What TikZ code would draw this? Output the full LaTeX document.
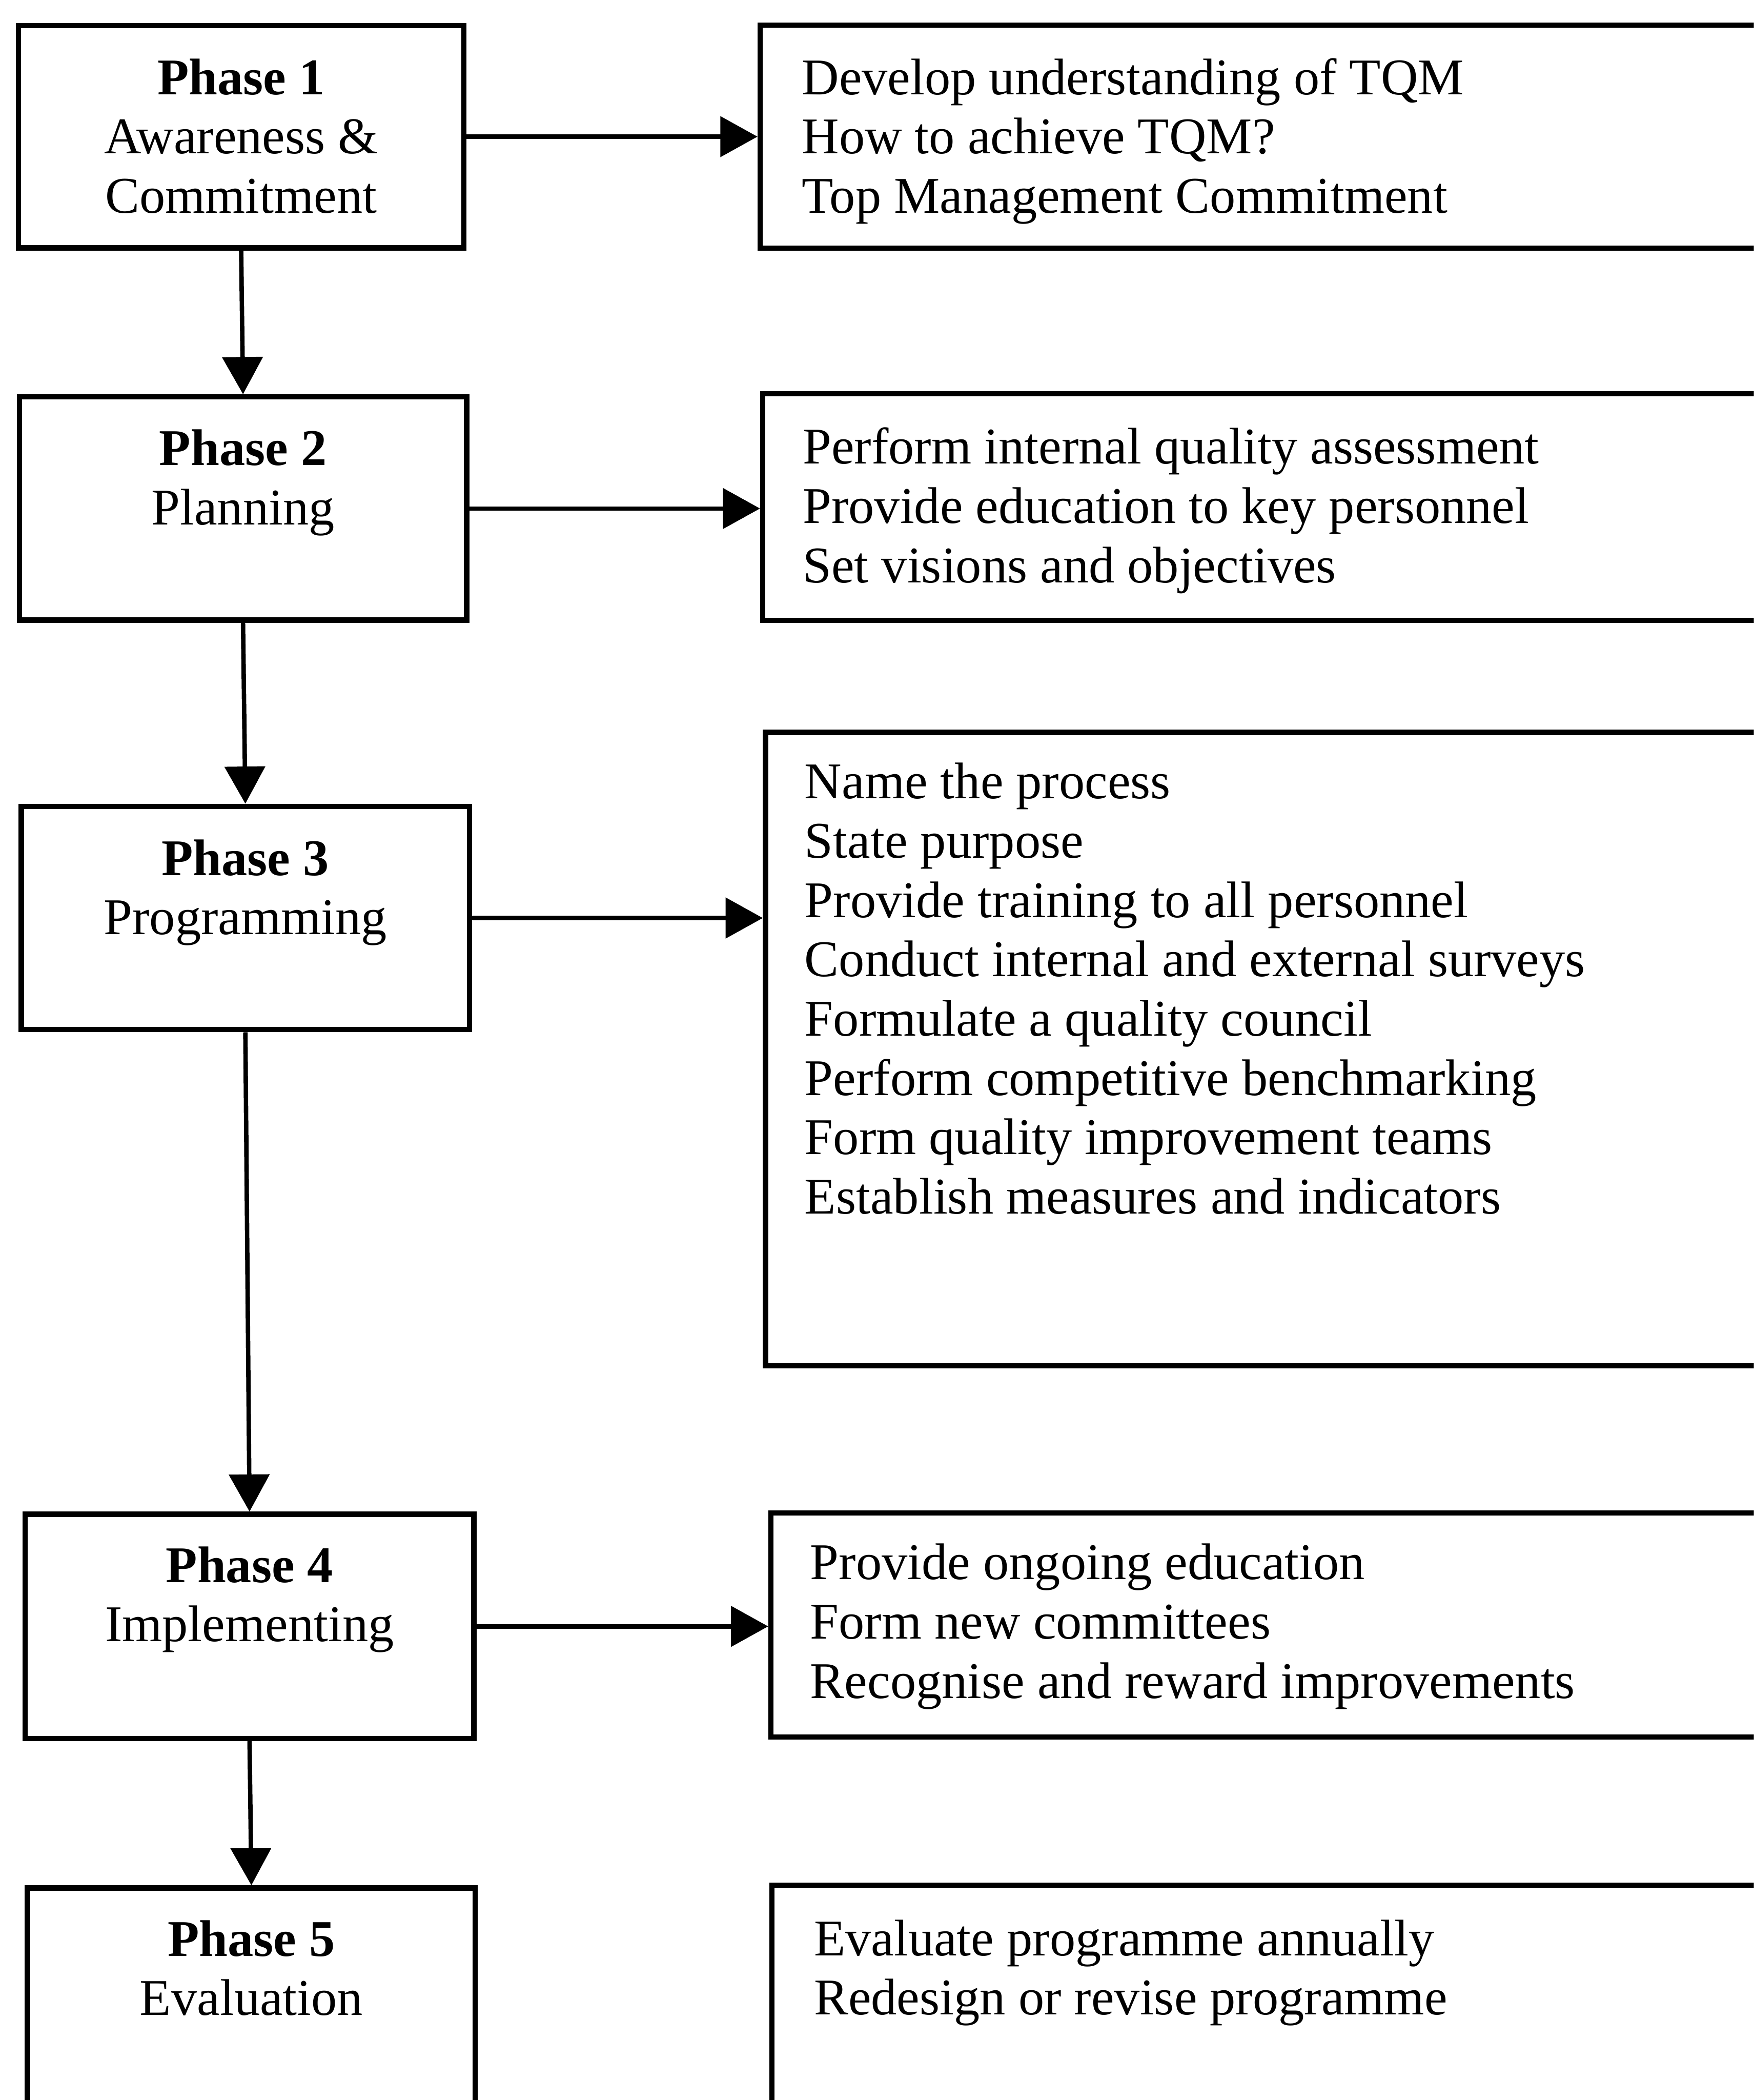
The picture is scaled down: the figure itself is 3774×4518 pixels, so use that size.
\documentclass[tikz,border=0pt]{standalone}
\usepackage{fontspec}
\setmainfont{Liberation Serif}
\usetikzlibrary{arrows.meta}
\begin{document}
\begin{tikzpicture}[x=0.01cm, y=-0.01cm,
  phasebox/.style={draw, rectangle, line width=0.115cm, inner sep=0pt},
  txt/.style={font=\fontsize{31.5pt}{36.3pt}\selectfont, inner sep=0pt},
  phasetxt/.style={txt, anchor=base, text width=9cm, align=flush center},
  listtxt/.style={txt, anchor=base west, text width=20cm, align=flush left},
  flow/.style={line width=0.095cm, -{Triangle[length=0.8cm, width=0.86cm]}}]
\clip (0,0) rectangle (3774,4518);
\fill[white] (0,0) rectangle (3774,4518);

% phase boxes (left column)
\node[phasebox, minimum width=9.58cm, minimum height=4.78cm] (b1) at (519,294) {};
\node[phasebox, minimum width=9.62cm, minimum height=4.80cm] (b2) at (523,1094) {};
\node[phasebox, minimum width=9.64cm, minimum height=4.80cm] (b3) at (528,1975) {};
\node[phasebox, minimum width=9.65cm, minimum height=4.82cm] (b4) at (537,3499) {};
\node[phasebox, minimum width=9.63cm, minimum height=6.40cm] (b5) at (541,4382) {};

\node[phasetxt] (t1) at (519,203) {\textbf{Phase 1}\\Awareness \&\\Commitment};
\node[phasetxt] (t2) at (523,1001) {\textbf{Phase 2}\\Planning};
\node[phasetxt] (t3) at (528,1883) {\textbf{Phase 3}\\Programming};
\node[phasetxt] (t4) at (537,3404) {\textbf{Phase 4}\\Implementing};
\node[phasetxt] (t5) at (541,4208) {\textbf{Phase 5}\\Evaluation};

% activity boxes (right column, running off the right edge)
\node[phasebox, minimum width=22.63cm, minimum height=4.79cm] (r1) at (2768,294) {};
\node[phasebox, minimum width=22.58cm, minimum height=4.87cm] (r2) at (2771,1091) {};
\node[phasebox, minimum width=22.52cm, minimum height=13.62cm] (r3) at (2774,2257) {};
\node[phasebox, minimum width=22.41cm, minimum height=4.82cm] (r4) at (2780,3496) {};
\node[phasebox, minimum width=22.39cm, minimum height=6.44cm] (r5) at (2781,4378) {};

\node[listtxt] (s1) at (1725,203) {Develop understanding of TQM\\How to achieve TQM?\\Top Management Commitment};
\node[listtxt] (s2) at (1727,998) {Perform internal quality assessment\\Provide education to key personnel\\Set visions and objectives};
\node[listtxt] (s3) at (1731,1718) {Name the process\\State purpose\\Provide training to all personnel\\Conduct internal and external surveys\\Formulate a quality council\\Perform competitive benchmarking\\Form quality improvement teams\\Establish measures and indicators};
\node[listtxt] (s4) at (1743,3398) {Provide ongoing education\\Form new committees\\Recognise and reward improvements};
\node[listtxt] (s5) at (1751,4207) {Evaluate programme annually\\Redesign or revise programme};

% flow between phases
\draw[flow] (b1.south) -- (b2.north);
\draw[flow] (b2.south) -- (b3.north);
\draw[flow] (b3.south) -- (b4.north);
\draw[flow] (b4.south) -- (b5.north);

% phase to activities
\draw[flow] (b1.east) -- (b1.east -| r1.west);
\draw[flow] (b2.east) -- (b2.east -| r2.west);
\draw[flow] (b3.east) -- (b3.east -| r3.west);
\draw[flow] (b4.east) -- (b4.east -| r4.west);
\end{tikzpicture}
\end{document}
